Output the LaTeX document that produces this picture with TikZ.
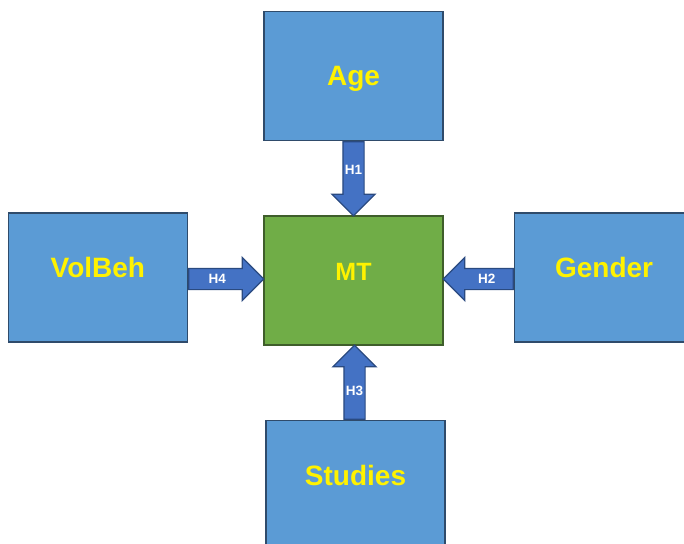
\documentclass[tikz,border=0pt]{standalone}
\usepackage{fontspec}
\setmainfont{Liberation Sans}
\usepackage{tikz}
\usetikzlibrary{calc, positioning, shapes.arrows}
\usepackage{xcolor}
\definecolor{boxblue}{HTML}{5B9BD5}
\definecolor{boxline}{HTML}{2F4B6B}
\definecolor{mtgreen}{HTML}{70AD47}
\definecolor{mtline}{HTML}{3F5E2B}
\definecolor{arrowblue}{HTML}{4472C4}
\definecolor{arrowline}{HTML}{2A4A80}
\begin{document}
\begin{tikzpicture}[x=1pt, y=-1pt, node distance=74pt,
    factor/.style={rectangle, draw=boxline, fill=boxblue, line width=1.6pt,
        minimum width=179pt, minimum height=129pt, inner sep=0pt, text=yellow,
        font=\bfseries\fontsize{28}{30}\selectfont, text height=20pt, text depth=20pt},
    fatarrow/.style={single arrow, draw=arrowline, fill=arrowblue, line width=1.2pt,
        inner xsep=0pt, inner ysep=10pt, single arrow head extend=11pt,
        single arrow tip angle=90, anchor=tail},
    hyp/.style={text=white, font=\bfseries\fontsize{13.5}{15}\selectfont, inner sep=0pt}]
            \useasboundingbox (0,0) rectangle (684,543);
            \clip (0,0) rectangle (684,543);
            % model in the middle, factors round it
            \node[factor, fill=mtgreen, draw=mtline, font=\bfseries\fontsize{25}{27}\selectfont,
                text height=18pt, text depth=18pt] (mt) at (353.5,280.5) {MT};
            \node[factor, text depth=0pt] (age) [above=of mt] {Age};
            \node[factor] (volbeh) [left=75pt of mt, yshift=3pt] {VolBeh};
            \node[factor] (gender) [right=70pt of mt, yshift=3pt] {Gender};
            \node[factor] (studies) [below=74pt of mt, xshift=2pt] {Studies};
            % hypotheses
            \node[fatarrow, minimum height=74pt, rotate=-90] (h1) at ($(age.south)!.5!(mt.north) - (0,37)$) {};
            \node[fatarrow, minimum height=70pt, rotate=180] (h2) at ($(gender.west)!.5!(mt.east) + (35,0)$) {};
            \node[fatarrow, minimum height=74pt, rotate=90] (h3) at ($(studies.north)!.5!(mt.south) + (0,37)$) {};
            \node[fatarrow, minimum height=75pt] (h4) at ($(volbeh.east)!.5!(mt.west) - (37.5,0)$) {};
            \foreach \h in {1,...,4}
                \node[hyp] at ($(h\h.tail)!.38!(h\h.tip)$) {H\h};
\end{tikzpicture}
\end{document}
